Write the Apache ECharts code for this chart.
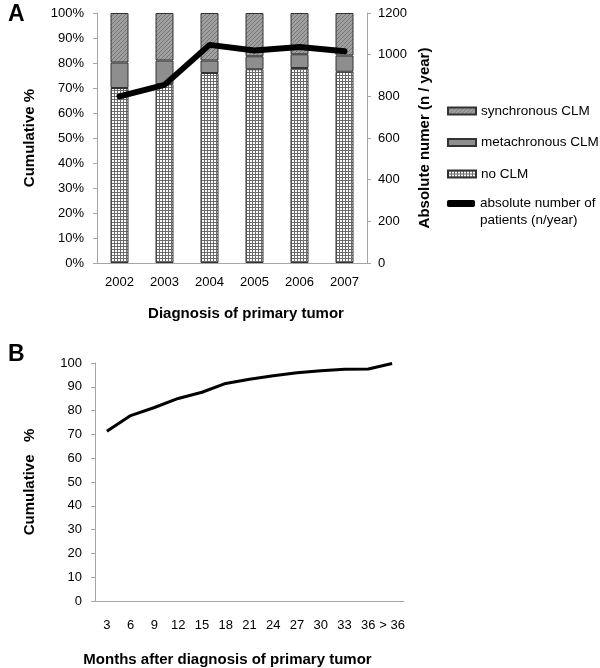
<!DOCTYPE html>
<html><head><meta charset="utf-8">
<script src="https://cdn.jsdelivr.net/npm/echarts@6/dist/echarts.min.js"></script>
<style>html,body{margin:0;padding:0;background:#fff}#c{width:600px;height:668px}</style>
</head><body><div id="c"></div>
<script>
const years = ['2002','2003','2004','2005','2006','2007'];
const noCLM = [70, 71.5, 76, 77.5, 78, 76.5];
const metaCLM = [10.2, 9.5, 5, 5.2, 5.5, 6.5];
const syncCLM = [19.8, 19, 19, 17.3, 16.5, 17];
const absPatients = [800, 855, 1047, 1020, 1037, 1016];
const months = ['3','6','9','12','15','18','21','24','27','30','33','36','> 36'];
const cumulative = [71.3, 77.9, 81.3, 85.1, 87.7, 91.4, 93.2, 94.6, 95.9, 96.7, 97.4, 97.5, 99.8];

function pattern(w, h, draw) {
  const c = document.createElement('canvas'); c.width = w; c.height = h;
  const g = c.getContext('2d'); draw(g, w, h);
  return {image: c, repeat: 'repeat'};
}
const gridPat = pattern(3, 3, (g) => {
  g.fillStyle = '#fff'; g.fillRect(0,0,3,3);
  g.fillStyle = '#6a6a6a'; g.fillRect(0,0,3,1); g.fillRect(0,0,1,3);
});
const hatchPat = pattern(4, 4, (g) => {
  g.fillStyle = '#a0a0a0'; g.fillRect(0,0,4,4);
  g.fillStyle = '#767676';
  for (let i = 0; i < 4; i++) g.fillRect(i, 3 - i, 1, 1);
});
const font = 'Liberation Sans, Arial, sans-serif';
const axisGray = '#a6a6a6';
const lineName = 'absolute number of\npatients (n/year)';
const chart = echarts.init(document.getElementById('c'));
chart.setOption({
  animation: false,
  textStyle: {fontFamily: font},
  title: [
    {text: 'A', left: 3, top: -2, textStyle: {fontSize: 23, fontWeight: 'bold', color: '#000', fontFamily: font}},
    {text: 'B', left: 3, top: 338, textStyle: {fontSize: 23, fontWeight: 'bold', color: '#000', fontFamily: font}}
  ],
  legend: [{
    orient: 'vertical', left: 447, top: 104, padding: 0, itemWidth: 28, itemHeight: 7, itemGap: 17.5,
    textStyle: {fontSize: 13.5, color: '#000', fontFamily: font},
    data: [
      {name: 'synchronous CLM', icon: 'rect'},
      {name: 'metachronous CLM', icon: 'rect'},
      {name: 'no CLM', icon: 'rect'}
    ]
  }, {
    orient: 'vertical', left: 447, top: 178, padding: 0, itemWidth: 28, itemHeight: 7,
    textStyle: {fontSize: 13.5, color: '#000', fontFamily: font, lineHeight: 17},
    formatter: (n) => '\n' + n,
    data: [{name: lineName, icon: 'roundRect'}]
  }],
  grid: [
    {left: 97, right: 233, top: 13, bottom: 405},
    {left: 95, right: 196, top: 363, bottom: 61}
  ],
  xAxis: [
    {type: 'category', gridIndex: 0, data: years,
     axisLine: {lineStyle: {color: axisGray}}, axisTick: {length: 4, lineStyle: {color: axisGray}},
     axisLabel: {color: '#000', fontSize: 13, margin: 13},
     name: 'Diagnosis of primary tumor', nameLocation: 'middle', nameGap: 43,
     nameTextStyle: {fontSize: 15, fontWeight: 'bold', color: '#000', padding: [0,0,0,28]}},
    {type: 'category', gridIndex: 1, data: months,
     axisLine: {lineStyle: {color: axisGray}}, axisTick: {length: 4, lineStyle: {color: axisGray}},
     axisLabel: {color: '#000', fontSize: 13, margin: 18, interval: 0},
     name: 'Months after diagnosis of primary tumor', nameLocation: 'middle', nameGap: 51,
     nameTextStyle: {fontSize: 15, fontWeight: 'bold', color: '#000', padding: [0,0,0,-44]}}
  ],
  yAxis: [
    {type: 'value', gridIndex: 0, min: 0, max: 100, interval: 10,
     axisLine: {show: true, lineStyle: {color: axisGray}}, axisTick: {show: true, length: 4, lineStyle: {color: axisGray}},
     splitLine: {show: false},
     axisLabel: {formatter: '{value}%', color: '#000', fontSize: 13, margin: 13},
     name: 'Cumulative %', nameLocation: 'middle', nameGap: 60,
     nameTextStyle: {fontSize: 15, fontWeight: 'bold', color: '#000'}},
    {type: 'value', gridIndex: 0, position: 'right', min: 0, max: 1200, interval: 200,
     axisLine: {show: true, lineStyle: {color: axisGray}}, axisTick: {show: true, length: 4, lineStyle: {color: axisGray}},
     splitLine: {show: false},
     axisLabel: {formatter: (v) => String(v), color: '#000', fontSize: 13, margin: 11},
     name: 'Absolute numer (n / year)', nameLocation: 'middle', nameGap: 50,
     nameTextStyle: {fontSize: 15, fontWeight: 'bold', color: '#000'}},
    {type: 'value', gridIndex: 1, min: 0, max: 100, interval: 10,
     axisLine: {show: true, lineStyle: {color: axisGray}}, axisTick: {show: true, length: 4, lineStyle: {color: axisGray}},
     splitLine: {show: false},
     axisLabel: {color: '#000', fontSize: 13, margin: 13},
     name: 'Cumulative   %', nameLocation: 'middle', nameGap: 58,
     nameTextStyle: {fontSize: 15, fontWeight: 'bold', color: '#000'}}
  ],
  series: [
    {name: 'no CLM', type: 'bar', stack: 'a', xAxisIndex: 0, yAxisIndex: 0, data: noCLM, barWidth: '40%',
     itemStyle: {color: gridPat, borderColor: '#333', borderWidth: 1}},
    {name: 'metachronous CLM', type: 'bar', stack: 'a', xAxisIndex: 0, yAxisIndex: 0, data: metaCLM, barWidth: '40%',
     itemStyle: {color: '#8e8e8e', borderColor: '#333', borderWidth: 1}},
    {name: 'synchronous CLM', type: 'bar', stack: 'a', xAxisIndex: 0, yAxisIndex: 0, data: syncCLM, barWidth: '40%',
     itemStyle: {color: hatchPat, borderColor: '#333', borderWidth: 1}},
    {name: lineName, type: 'line', xAxisIndex: 0, yAxisIndex: 1, data: absPatients,
     symbol: 'none', lineStyle: {color: '#000', width: 6, cap: 'round'}, itemStyle: {color: '#000'}},
    {name: 'cumulative', type: 'line', xAxisIndex: 1, yAxisIndex: 2, data: cumulative,
     symbol: 'none', lineStyle: {color: '#000', width: 3}, itemStyle: {color: '#000'}}
  ]
});
</script></body></html>
